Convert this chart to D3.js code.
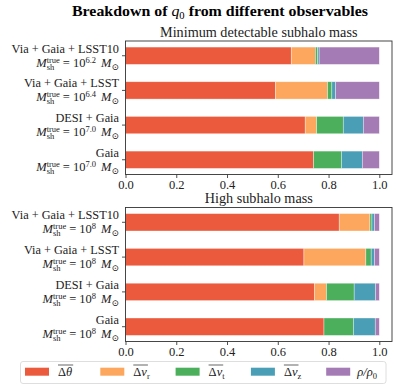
<!DOCTYPE html>
<html>
<head>
<meta charset="utf-8">
<script src="https://cdn.jsdelivr.net/npm/d3@7"></script>
<style>
  body { margin: 0; background: #fff; }
  svg { font-family: "Liberation Serif", "DejaVu Serif", serif; }
</style>
</head>
<body>
<svg width="397" height="389"></svg>
<script>
const rows = ["Via + Gaia + LSST10", "Via + Gaia + LSST", "DESI + Gaia", "Gaia"];
const massMin = ["6.2", "6.4", "7.0", "7.0"];
const massHigh = ["8", "8", "8", "8"];
const keys = ["theta", "vr", "vt", "vz", "rho"];
const colors = ["#eb5a3c", "#fca75d", "#4caf5c", "#4a9eb5", "#a47bb4"];
const xTicks = [0, 0.2, 0.4, 0.6, 0.8, 1.0];

// fraction of q0 from each observable, per row (theta, vr, vt, vz, rho)
const minShares = [
  [0.653, 0.095, 0.009, 0.006, 0.237],
  [0.591, 0.205, 0.017, 0.015, 0.172],
  [0.708, 0.045, 0.105, 0.079, 0.063],
  [0.741, 0.0, 0.110, 0.082, 0.067],
];
const highShares = [
  [0.842, 0.121, 0.008, 0.010, 0.019],
  [0.703, 0.244, 0.021, 0.013, 0.019],
  [0.744, 0.048, 0.109, 0.084, 0.015],
  [0.782, 0.0, 0.116, 0.086, 0.016],
];

const svg = d3.select("svg");
const left = 125.5;
const right = 392;
const serif = "Liberation Serif, DejaVu Serif, serif";

const x = d3.scaleLinear().domain([0, 1.05]).range([left, right]);

svg
  .append("text")
  .attr("x", 220)
  .attr("y", 16)
  .attr("text-anchor", "middle")
  .attr("font-size", 15)
  .attr("font-weight", "bold")
  .attr("textLength", 296)
  .attr("lengthAdjust", "spacingAndGlyphs")
  .call((t) => {
    t.append("tspan").text("Breakdown of ");
    t.append("tspan").attr("font-style", "italic").attr("font-weight", "normal").text("q");
    t.append("tspan").attr("font-size", 10).attr("font-weight", "normal").attr("dy", 3).text("0");
    t.append("tspan").attr("dy", -3).text(" from different observables");
  });

function massLabel(g, yc, name, exp) {
  g.append("text")
    .attr("x", 119)
    .attr("y", yc - 3)
    .attr("text-anchor", "end")
    .attr("font-size", 12.3)
    .attr("fill", "#222")
    .text(name);
  const t = g
    .append("text")
    .attr("x", 119)
    .attr("y", yc + 11)
    .attr("text-anchor", "end")
    .attr("font-size", 12.5)
    .attr("fill", "#222");
  t.append("tspan").attr("font-style", "italic").text("M");
  const sh = t.append("tspan").attr("font-size", 8.5).attr("dy", 3).text("sh");
  const w = sh.node().getComputedTextLength();
  t.append("tspan").attr("font-size", 8.5).attr("dx", -w).attr("dy", -7).text("true");
  t.append("tspan").attr("dx", 3).attr("dy", 4).text("=");
  t.append("tspan").attr("dx", 3).text("10");
  t.append("tspan").attr("font-size", 8.5).attr("dy", -4).text(exp);
  t.append("tspan").attr("dy", 4).attr("dx", 5).attr("font-style", "italic").text("M");
  t.append("tspan").attr("font-size", 9).attr("dy", 3).text("\u2299");
}

function drawPanel(shares, masses, title, top, bottom) {
  const data = shares.map((s, i) => {
    const o = { name: rows[i] };
    keys.forEach((k, j) => (o[k] = s[j]));
    return o;
  });

  const y = d3
    .scaleBand()
    .domain(rows)
    .range([top, bottom])
    .paddingInner(0.5)
    .paddingOuter(0.175);

  const stacked = d3.stack().keys(keys)(data);

  const g = svg.append("g");

  g.selectAll("g.layer")
    .data(stacked)
    .join("g")
    .attr("class", "layer")
    .attr("fill", (d, i) => colors[i])
    .selectAll("rect")
    .data((d) => d)
    .join("rect")
    .attr("x", (d) => x(d[0]))
    .attr("y", (d) => y(d.data.name))
    .attr("width", (d) => x(d[1]) - x(d[0]))
    .attr("height", y.bandwidth())
    .attr("stroke", "#fff")
    .attr("stroke-opacity", 0.6)
    .attr("stroke-width", 0.6);

  const xAxis = d3.axisBottom(x).tickValues(xTicks).tickFormat(d3.format(".1f")).tickSize(3.5);
  g.append("g")
    .attr("transform", `translate(0, ${bottom})`)
    .call(xAxis)
    .attr("font-family", serif)
    .attr("font-size", 12.5)
    .call((a) => a.select(".domain").remove())
    .call((a) => a.selectAll("line").attr("stroke", "#222").attr("stroke-width", 0.8))
    .call((a) =>
      a.selectAll("text")
        .attr("fill", "#222")
        .attr("dy", null)
        .attr("y", 14.5)
    );

  const yAxis = d3.axisLeft(y).tickSize(3.5).tickFormat("");
  g.append("g")
    .attr("transform", `translate(${left}, 0)`)
    .call(yAxis)
    .call((a) => a.select(".domain").remove())
    .call((a) => a.selectAll("line").attr("stroke", "#222").attr("stroke-width", 0.8));

  rows.forEach((r, i) => massLabel(g, y(r) + y.bandwidth() / 2, r, masses[i]));

  g.append("rect")
    .attr("x", left)
    .attr("y", top)
    .attr("width", right - left)
    .attr("height", bottom - top)
    .attr("fill", "none")
    .attr("stroke", "#333")
    .attr("stroke-width", 0.9);

  g.append("text")
    .attr("x", (left + right) / 2)
    .attr("y", top - 4.5)
    .attr("text-anchor", "middle")
    .attr("font-size", 14.2)
    .attr("fill", "#222")
    .text(title);
}

drawPanel(minShares, massMin, "Minimum detectable subhalo mass", 41, 174.5);
drawPanel(highShares, massHigh, "High subhalo mass", 207.5, 341.5);

// legend
const legend = svg.append("g");
legend
  .append("rect")
  .attr("x", 20.5)
  .attr("y", 361.5)
  .attr("width", 365.5)
  .attr("height", 22)
  .attr("rx", 2.5)
  .attr("fill", "#fff")
  .attr("stroke", "#d6d6d6")
  .attr("stroke-width", 0.8);

const legendLabels = [
  { main: ["\u0394", "\u03b8"], sub: "" },
  { main: ["\u0394", "v"], sub: "r" },
  { main: ["\u0394", "v"], sub: "t" },
  { main: ["\u0394", "v"], sub: "z" },
  { main: null },
];

legendLabels.forEach((lab, i) => {
  const px = 25 + i * 75.3;
  legend
    .append("rect")
    .attr("x", px)
    .attr("y", 367.7)
    .attr("width", 24)
    .attr("height", 8)
    .attr("fill", colors[i]);
  const t = legend
    .append("text")
    .attr("x", px + 33)
    .attr("y", 376)
    .attr("font-size", 12.5)
    .attr("fill", "#222");
  if (lab.main) {
    t.append("tspan").text(lab.main[0]);
    t.append("tspan").attr("font-style", "italic").text(lab.main[1]);
    const w = t.node().getComputedTextLength();
    if (lab.sub) t.append("tspan").attr("font-size", 8.5).attr("dy", 2.5).text(lab.sub);
    legend
      .append("line")
      .attr("x1", px + 33)
      .attr("x2", px + 33 + w + 1)
      .attr("y1", 365)
      .attr("y2", 365)
      .attr("stroke", "#222")
      .attr("stroke-width", 0.7);
  } else {
    t.attr("x", px + 31);
    t.append("tspan").attr("font-style", "italic").text("\u03c1/\u03c1");
    t.append("tspan").attr("font-size", 8.5).attr("dy", 2.5).text("0");
  }
});
</script>
</body>
</html>
